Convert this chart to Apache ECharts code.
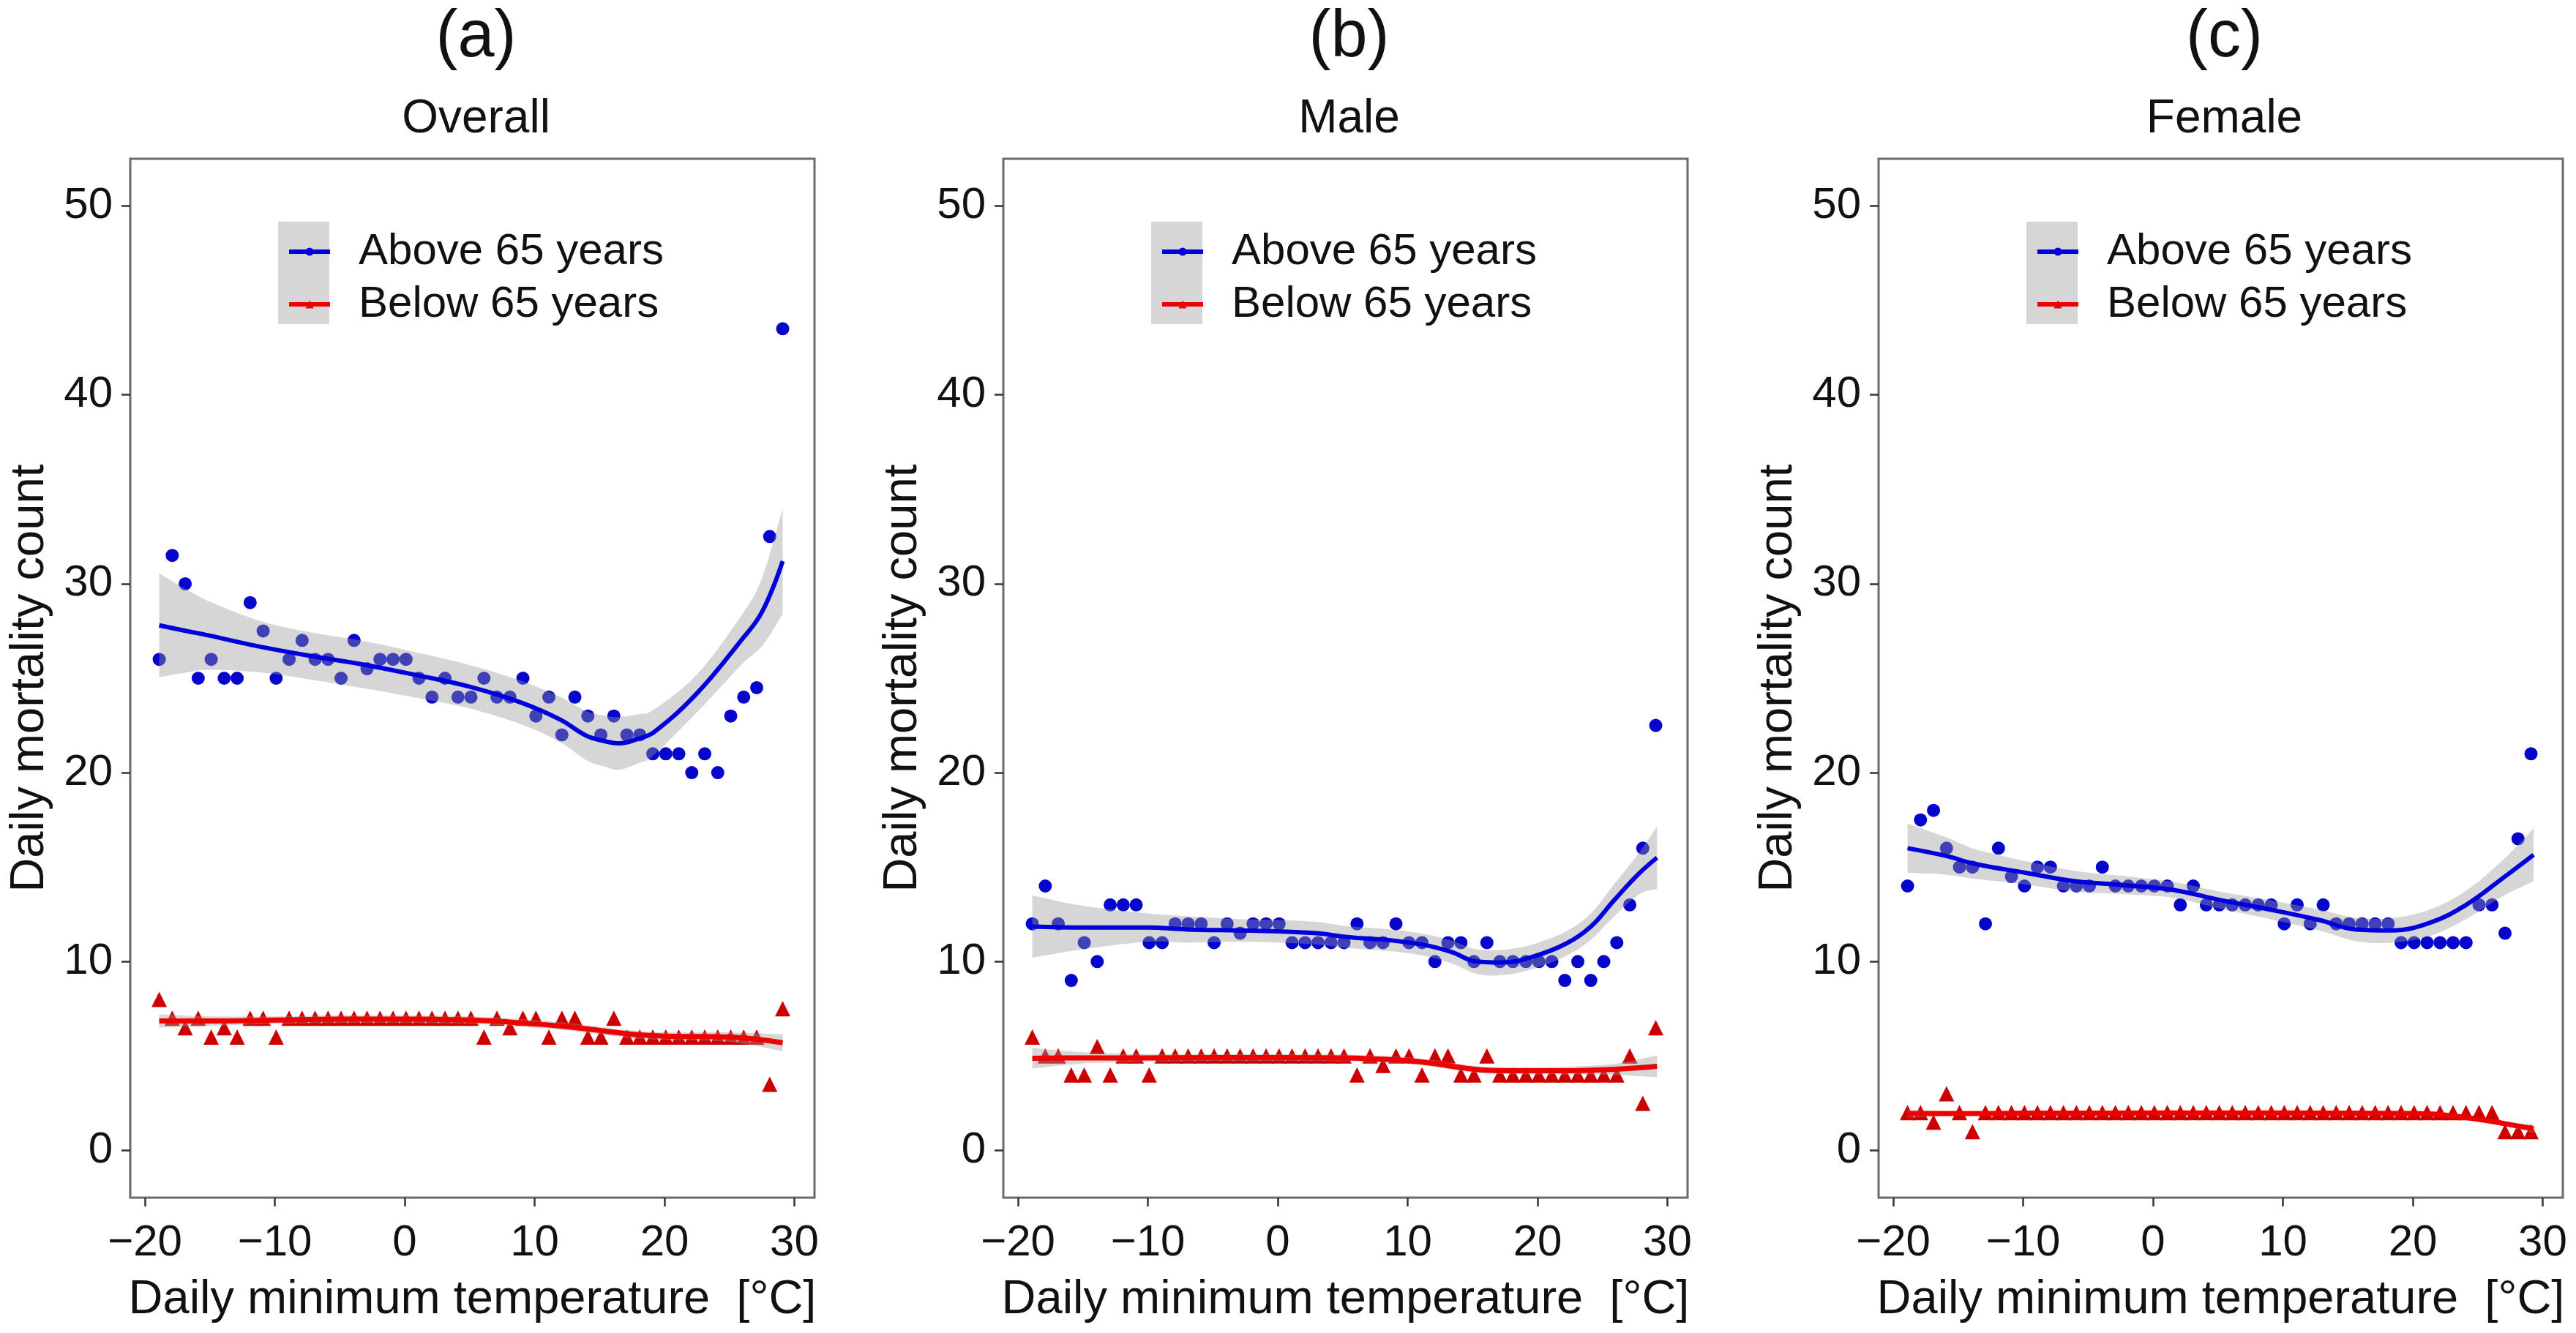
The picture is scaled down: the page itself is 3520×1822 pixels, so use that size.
<!DOCTYPE html>
<html>
<head>
<meta charset="utf-8">
<script src="https://cdn.jsdelivr.net/npm/echarts@6/dist/echarts.min.js"></script>
<style>
html,body{margin:0;padding:0;background:#fff;}
#chart{width:3520px;height:1822px;}
</style>
</head>
<body>
<div id="chart"></div>
<script>
// ---------------- DATA ----------------
const panelLetters = ['(a)', '(b)', '(c)'];
const panelNames = ['Overall', 'Male', 'Female'];
const seriesNames = ['Above 65 years', 'Below 65 years'];
const xTickValues = [-20, -10, 0, 10, 20, 30];
const yTickValues = [0, 10, 20, 30, 40, 50];

// binned daily minimum temperature (°C)
const temps = [-18.9,-17.9,-16.9,-15.9,-14.9,-13.9,-12.9,-11.9,-10.9,-9.9,-8.9,-7.9,-6.9,-5.9,-4.9,-3.9,-2.9,-1.9,-0.9,0.1,1.1,2.1,3.1,4.1,5.1,6.1,7.1,8.1,9.1,10.1,11.1,12.1,13.1,14.1,15.1,16.1,17.1,18.1,19.1,20.1,21.1,22.1,23.1,24.1,25.1,26.1,27.1,28.1,29.1];

// (a) Overall
const overallAbove = [26,31.5,30,25,26,25,25,29,27.5,25, 26,27,26,26,25,27,25.5,26,26,26, 25,24,25,24,24,25,24,24,25,23, 24,22,24,23,22,23,22,22,21,21, 21,20,21,20,23,24,24.5,32.5,43.5];
const overallBelow = [8,7,6.5,7,6,6.5,6,7,7,6, 7,7,7,7,7,7,7,7,7,7,7,7,7,7,7, 6,7,6.5,7,7,6,7,7,6,6,7, 6,6,6,6,6,6,6,6,6,6,6, 3.5,7.5];
// (b) Male
const maleAbove = [12,14,12,9,11,10,13,13,13,11, 11,12,12,12,11,12,11.5,12,12,12, 11,11,11,11,11,12,11,11,12,11, 11,10,11,11,10,11,10,10,10,10, 10,9,10,9,10,11,13,16,22.5];
const maleBelow = [6,5,5,4,4,5.5,4,5,5,4, 5,5,5,5,5,5,5,5,5,5,5,5,5,5,5, 4,5,4.5,5,5,4,5,5,4,4,5, 4,4,4,4,4,4,4,4,4,4, 5,2.5,6.5];
// (c) Female
const femaleAbove = [14,17.5,18,16,15,15,12,16,14.5,14, 15,15,14,14,14,15,14,14,14,14, 14,13,14,13,13,13,13,13,13,12, 13,12,13,12,12,12,12,12,11,11, 11,11,11,11,13,13,11.5,16.5,21];
const femaleBelow = [2,2,1.5,3,2,1, 2,2,2,2,2,2,2,2,2,2,2,2,2,2,2,2,2,2,2,2,2,2,2,2,2,2,2,2,2,2,2,2,2,2,2,2,2,2,2,2, 1,1,1];

// smoothed fits (loess) and 95% bands
const overallAboveFitX = [-18.9,-16.8,-15,-11,-7,-3,1,5,9,12,14,15.5,16.5,18,19.2,22.5,25.9,27.5,29.1];
const overallAboveFit  = [27.8,27.5,27.25,26.65,26.15,25.7,25.15,24.55,23.7,22.8,21.95,21.65,21.55,21.8,22.15,24.2,27.0,28.5,31.2];
const overallAboveLo   = [25.05,25.3,25.45,25.3,24.9,24.45,23.95,23.4,22.55,21.6,20.65,20.3,20.15,20.5,20.95,23.2,25.7,26.7,28.4];
const overallAboveHi   = [30.55,29.7,29.05,28.0,27.4,26.95,26.35,25.7,24.85,24.0,23.25,23.0,22.95,23.1,23.35,25.2,28.3,30.3,34.0];

const overallBelowFitX = [-18.9,-15,-10,-5,0,5,8,10,12.5,15,17.5,20,25,29.1];
const overallBelowFit  = [6.85,6.85,6.9,6.95,6.95,6.9,6.8,6.7,6.55,6.35,6.15,6.05,6.0,5.7];
const overallBelowLo   = [6.5,6.6,6.7,6.75,6.75,6.7,6.6,6.5,6.35,6.15,5.95,5.85,5.75,5.25];
const overallBelowHi   = [7.2,7.1,7.1,7.15,7.15,7.1,7.0,6.9,6.75,6.55,6.35,6.25,6.25,6.15];

const maleAboveFitX = [-18.9,-15,-10,-7,-3,0,3,5.3,9,11.5,13.4,15.3,17.3,19.6,22.2,24.1,25.9,27.8,29.2];
const maleAboveFit  = [11.85,11.8,11.8,11.7,11.65,11.6,11.5,11.3,11.1,10.85,10.5,10.0,9.95,10.25,10.95,11.85,13.25,14.65,15.5];
const maleAboveLo   = [10.2,10.65,11.05,11.0,11.05,11.0,10.9,10.72,10.52,10.27,9.9,9.35,9.28,9.6,10.3,11.15,12.4,13.55,13.85];
const maleAboveHi   = [13.5,12.95,12.55,12.4,12.25,12.2,12.1,11.88,11.68,11.43,11.1,10.65,10.62,10.9,11.6,12.55,14.1,15.75,17.15];

const maleBelowFitX = [-18.9,-15,-10,-5,0,5,9,11.5,13,14.5,16,18,22,26,29.2];
const maleBelowFit  = [4.88,4.9,4.9,4.92,4.92,4.9,4.8,4.65,4.5,4.35,4.25,4.22,4.22,4.3,4.45];
const maleBelowLo   = [4.33,4.6,4.7,4.74,4.74,4.72,4.62,4.47,4.32,4.17,4.07,4.04,4.02,4.0,3.87];
const maleBelowHi   = [5.43,5.2,5.1,5.1,5.1,5.08,4.98,4.83,4.68,4.53,4.43,4.4,4.42,4.6,5.03];

const femaleAboveFitX = [-18.9,-16,-13.6,-9.8,-6,-2.3,1.5,5.2,9,12.8,15.6,18.4,21.3,24.1,26.9,29.3];
const femaleAboveFit  = [16.0,15.6,15.15,14.7,14.25,14.05,13.8,13.25,12.75,12.2,11.7,11.65,12.05,13.0,14.4,15.65];
const femaleAboveLo   = [14.7,14.6,14.37,14.08,13.7,13.57,13.38,12.8,12.25,11.65,11.08,11.0,11.35,12.25,13.45,14.25];
const femaleAboveHi   = [17.3,16.6,15.93,15.32,14.8,14.53,14.22,13.7,13.25,12.75,12.32,12.3,12.75,13.75,15.35,17.05];

const femaleBelowFitX = [-18.9,-15,-10,0,10,20,22,24,26,28,29.3];
const femaleBelowFit  = [1.95,1.95,1.97,1.98,1.98,1.95,1.9,1.75,1.55,1.3,1.15];
const femaleBelowLo   = [1.75,1.83,1.89,1.91,1.91,1.87,1.81,1.65,1.43,1.15,0.93];
const femaleBelowHi   = [2.15,2.07,2.05,2.05,2.05,2.03,1.99,1.85,1.67,1.45,1.37];

// ---------------- BUILD ----------------
const panels = [
  {above: overallAbove, below: overallBelow,
   aFit: [overallAboveFitX, overallAboveFit, overallAboveLo, overallAboveHi],
   bFit: [overallBelowFitX, overallBelowFit, overallBelowLo, overallBelowHi]},
  {above: maleAbove, below: maleBelow,
   aFit: [maleAboveFitX, maleAboveFit, maleAboveLo, maleAboveHi],
   bFit: [maleBelowFitX, maleBelowFit, maleBelowLo, maleBelowHi]},
  {above: femaleAbove, below: femaleBelow,
   aFit: [femaleAboveFitX, femaleAboveFit, femaleAboveLo, femaleAboveHi],
   bFit: [femaleBelowFitX, femaleBelowFit, femaleBelowLo, femaleBelowHi]}
];

const FONT = '"Liberation Sans", Arial, Helvetica, sans-serif';
const BLUE = '#0000dd';
const BLUE_PT = '#0505cc';
const RED = '#ee0000';
const RED_PT = '#cc0000';
const BAND = 'rgba(153,153,153,0.4)';
const gridLefts = [178, 1371, 2567];
const gridTop = 217, gridW = 935, gridH = 1420;

const zip = (xs, ys) => xs.map((x, i) => [x, ys[i]]);
const fmt = v => (v < 0 ? '\u2212' + Math.abs(v) : String(v));

// Catmull-Rom smoothing of a pixel polyline (drawing only)
function smoothPath(pts, steps) {
  const out = [];
  for (let i = 0; i < pts.length - 1; i++) {
    const p0 = pts[Math.max(0, i - 1)], p1 = pts[i], p2 = pts[i + 1], p3 = pts[Math.min(pts.length - 1, i + 2)];
    for (let s = 0; s < steps; s++) {
      const t = s / steps, t2 = t * t, t3 = t2 * t;
      const f = k => 0.5 * ((2 * p1[k]) + (-p0[k] + p2[k]) * t + (2 * p0[k] - 5 * p1[k] + 4 * p2[k] - p3[k]) * t2 + (-p0[k] + 3 * p1[k] - 3 * p2[k] + p3[k]) * t3);
      out.push([f(0), f(1)]);
    }
  }
  out.push(pts[pts.length - 1]);
  return out;
}

const grids = [], xAxes = [], yAxes = [], series = [], titles = [], legends = [], graphics = [];

panels.forEach((p, gi) => {
  const L = gridLefts[gi];
  grids.push({left: L, top: gridTop, width: gridW, height: gridH, show: true,
    borderColor: '#6a6a6a', borderWidth: 3, backgroundColor: '#fff', containLabel: false});
  xAxes.push({type: 'value', gridIndex: gi, min: -21.13, max: 31.55,
    axisLine: {show: false, onZero: false}, splitLine: {show: false},
    axisTick: {show: true, customValues: xTickValues, length: 12, lineStyle: {color: '#333', width: 2.5}},
    axisLabel: {customValues: xTickValues, formatter: fmt, fontSize: 60, color: '#111', fontFamily: FONT, margin: 32},
    name: 'Daily minimum temperature  [\u00B0C]', nameLocation: 'middle', nameGap: 108,
    nameTextStyle: {fontSize: 65, color: '#111', fontFamily: FONT}});
  yAxes.push({type: 'value', gridIndex: gi, min: -2.5, max: 52.5,
    axisLine: {show: false, onZero: false}, splitLine: {show: false},
    axisTick: {show: true, customValues: yTickValues, length: 12, lineStyle: {color: '#333', width: 2.5}},
    axisLabel: {customValues: yTickValues, fontSize: 60, color: '#111', fontFamily: FONT, margin: 24},
    name: 'Daily mortality count', nameLocation: 'middle', nameGap: 104,
    nameTextStyle: {fontSize: 65, color: '#111', fontFamily: FONT}});

  const cx = L + gridW / 2;
  titles.push({text: panelLetters[gi], left: cx, top: 2, textAlign: 'center',
    textStyle: {fontSize: 90, fontWeight: 'normal', color: '#111', fontFamily: FONT}});
  titles.push({text: panelNames[gi], left: cx, top: 126, textAlign: 'center',
    textStyle: {fontSize: 64, fontWeight: 'normal', color: '#111', fontFamily: FONT}});

  graphics.push({type: 'rect', z: 1, shape: {x: L + 202, y: 303, width: 70, height: 140}, style: {fill: '#d6d6d6'}});
  legends.push({data: seriesNames, left: L + 209, top: 309, orient: 'vertical', itemWidth: 56, itemHeight: 14,
    itemGap: 12, selectedMode: false, z: 5, lineStyle: {width: 6},
    textStyle: {fontSize: 60, color: '#111', fontFamily: FONT, padding: [0, 0, 0, 34], lineHeight: 58}});

  const common = {xAxisIndex: gi, yAxisIndex: gi, animation: false, silent: true};
  // fitted lines (first, so the legend takes its icon from them)
  series.push(Object.assign({type: 'line', name: seriesNames[0], data: zip(p.aFit[0], p.aFit[1]),
    smooth: 0.4, symbol: 'circle', showSymbol: false, z: 4,
    lineStyle: {color: BLUE, width: 6}, itemStyle: {color: BLUE}}, common));
  series.push(Object.assign({type: 'line', name: seriesNames[1], data: zip(p.bFit[0], p.bFit[1]),
    smooth: 0.4, symbol: 'triangle', showSymbol: false, z: 4,
    lineStyle: {color: RED, width: 7}, itemStyle: {color: RED}}, common));
  // points
  series.push(Object.assign({type: 'scatter', name: 'pts-above-' + gi, data: zip(temps, p.above),
    symbol: 'circle', symbolSize: 18, z: 2, itemStyle: {color: BLUE_PT, opacity: 1}}, common));
  series.push(Object.assign({type: 'scatter', name: 'pts-below-' + gi, data: zip(temps, p.below),
    symbol: 'triangle', symbolSize: 21, z: 2, itemStyle: {color: RED_PT, opacity: 1}}, common));
  // confidence bands as one polygon each
  [p.aFit, p.bFit].forEach((f, k) => {
    const xs = f[0], lo = f[2], hi = f[3];
    series.push(Object.assign({type: 'custom', name: 'band-' + k + '-' + gi, z: 3,
      data: xs.map((x, i) => [x, lo[i], hi[i]]),
      encode: {x: 0, y: [1, 2]},
      renderItem: function (params, api) {
        if (params.dataIndex !== 0) return null;
        const top = xs.map((x, i) => api.coord([x, hi[i]]));
        const bot = xs.map((x, i) => api.coord([x, lo[i]]));
        const pts = smoothPath(top, 12).concat(smoothPath(bot, 12).reverse());
        return {type: 'polygon', shape: {points: pts}, style: {fill: BAND}};
      }}, common));
  });
});

const chart = echarts.init(document.getElementById('chart'), null, {renderer: 'canvas'});
chart.setOption({
  backgroundColor: '#ffffff',
  animation: false,
  textStyle: {fontFamily: FONT},
  title: titles,
  legend: legends,
  grid: grids,
  xAxis: xAxes,
  yAxis: yAxes,
  graphic: graphics,
  series: series
});
</script>
</body>
</html>
